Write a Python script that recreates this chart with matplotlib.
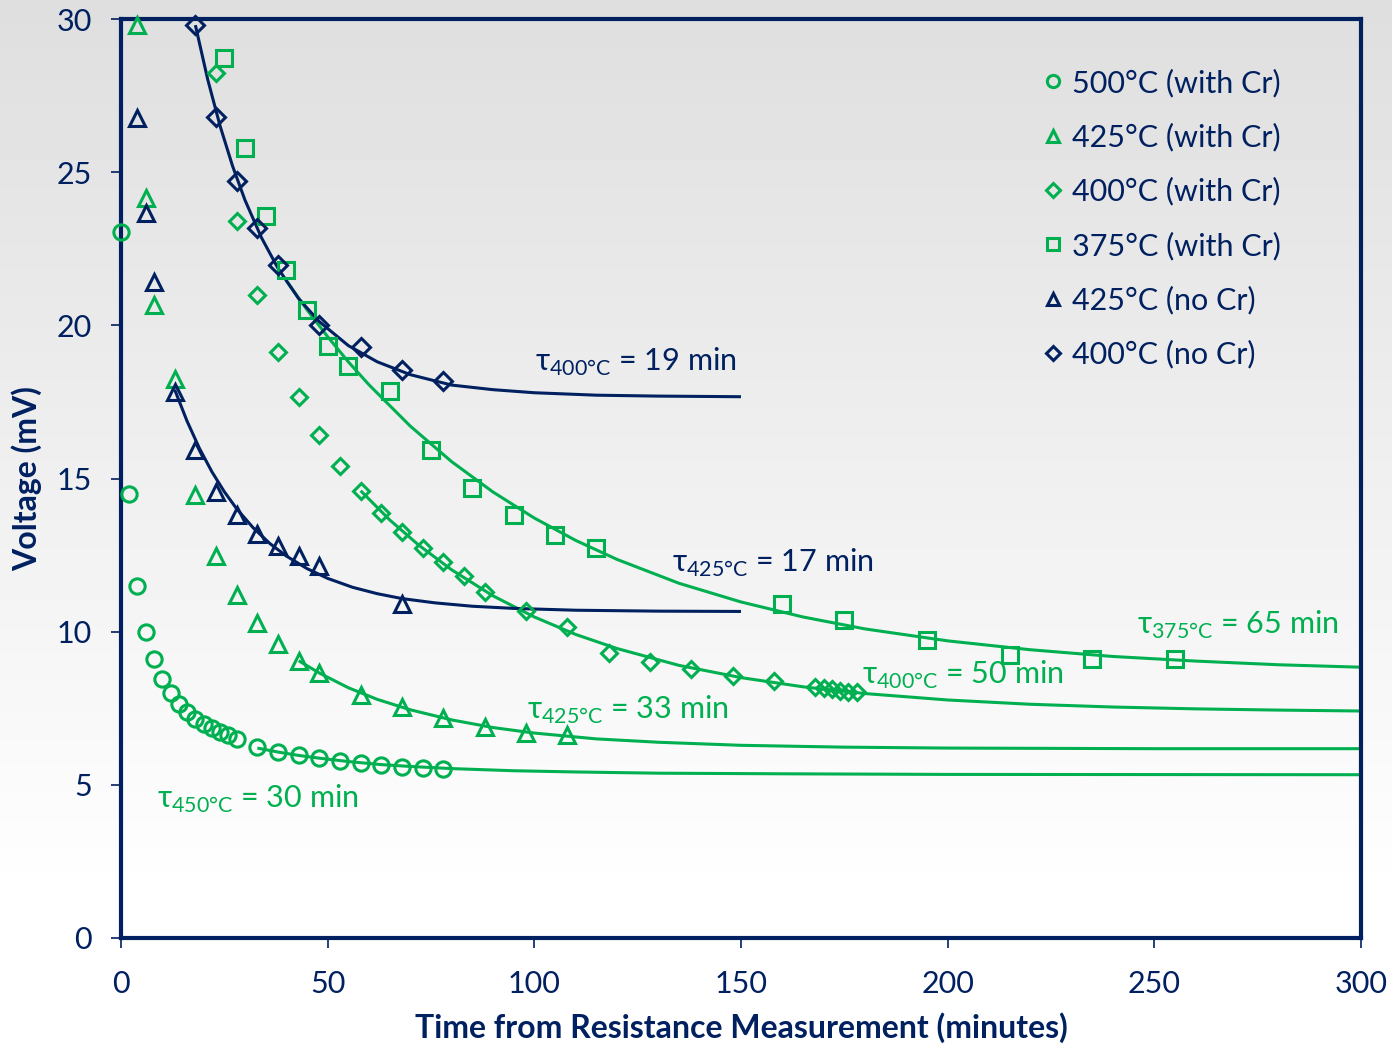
import matplotlib
matplotlib.use("Agg")
import matplotlib.pyplot as plt
import numpy as np
from matplotlib.lines import Line2D

# ----------------------------------------------------------------------
# Data
# ----------------------------------------------------------------------
# 500°C (with Cr) - circles
t_500 = [0, 2, 4, 6, 8, 10, 12, 14, 16, 18, 20, 22, 24, 26, 28,
         33, 38, 43, 48, 53, 58, 63, 68, 73, 78]
v_500 = [23.05, 14.5, 11.5, 9.98, 9.1, 8.46, 8.01, 7.65, 7.37, 7.15, 6.98,
         6.84, 6.73, 6.63, 6.49, 6.23, 6.08, 5.97, 5.88, 5.78, 5.71, 5.64,
         5.57, 5.54, 5.52]

# 425°C (with Cr) - triangles
t_425 = [4, 6, 8, 13, 18, 23, 28, 33, 38, 43, 48, 58, 68, 78, 88, 98, 108]
v_425 = [29.8, 24.17, 20.65, 18.25, 14.47, 12.48, 11.2, 10.29, 9.59, 9.04,
         8.66, 7.93, 7.53, 7.17, 6.9, 6.68, 6.63]

# 400°C (with Cr) - diamonds
t_400 = [23, 28, 33, 38, 43, 48, 53, 58, 63, 68, 73, 78, 83, 88, 98, 108,
         118, 128, 138, 148, 158, 168, 170, 172, 174, 176, 178]
v_400 = [28.23, 23.4, 20.98, 19.12, 17.65, 16.43, 15.42, 14.6, 13.88, 13.24,
         12.72, 12.28, 11.82, 11.3, 10.67, 10.14, 9.3, 9.0, 8.78, 8.56, 8.39,
         8.2, 8.15, 8.12, 8.07, 8.04, 8.02]

# 375°C (with Cr) - squares
t_375 = [25, 30, 35, 40, 45, 50, 55, 65, 75, 85, 95, 105, 115, 160, 175,
         195, 215, 235, 255]
v_375 = [28.72, 25.78, 23.56, 21.8, 20.5, 19.34, 18.68, 17.86, 15.92, 14.68,
         13.81, 13.16, 12.74, 10.89, 10.37, 9.73, 9.24, 9.12, 9.12]

# 425°C (no Cr) - triangles
t_425n = [4, 6, 8, 13, 18, 23, 28, 33, 38, 43, 48, 68]
v_425n = [26.78, 23.66, 21.4, 17.82, 15.92, 14.55, 13.82, 13.19, 12.81,
          12.48, 12.14, 10.9]

# 400°C (no Cr) - diamonds
t_400n = [18, 23, 28, 33, 38, 48, 58, 68, 78]
v_400n = [29.8, 26.79, 24.72, 23.17, 21.97, 20.02, 19.29, 18.55, 18.18]

# fitted decay curves, sampled along the drawn lines
fit_500_t = [33, 38, 43, 48, 55, 63, 70, 80, 95, 110, 130, 160, 200, 300]
fit_500_v = [6.2, 6.07, 5.96, 5.87, 5.76, 5.66, 5.6, 5.53, 5.46, 5.42, 5.38,
             5.36, 5.34, 5.33]

fit_425_t = [43, 48, 55, 62, 70, 80, 90, 100, 115, 130, 150, 175, 200, 250, 300]
fit_425_v = [9.05, 8.65, 8.17, 7.79, 7.45, 7.12, 6.87, 6.69, 6.5, 6.39, 6.29,
             6.23, 6.2, 6.18, 6.18]

fit_400_t = [58, 65, 72, 80, 90, 100, 110, 120, 135, 150, 165, 180, 200, 220,
             240, 260, 280, 300]
fit_400_v = [14.6, 13.65, 12.83, 12.02, 11.17, 10.48, 9.91, 9.45, 8.9, 8.5,
             8.2, 7.98, 7.77, 7.63, 7.54, 7.48, 7.44, 7.41]

fit_375_t = [40, 45, 50, 55, 60, 70, 80, 90, 100, 110, 120, 135, 150, 165,
             180, 200, 220, 240, 260, 280, 300]
fit_375_v = [21.46, 20.51, 19.63, 18.81, 18.06, 16.71, 15.55, 14.56, 13.71,
             12.98, 12.36, 11.58, 10.97, 10.48, 10.09, 9.7, 9.41, 9.19, 9.04,
             8.92, 8.84]

fit_425n_t = [13, 16, 19, 22, 25, 28, 32, 36, 40, 45, 50, 56, 62, 68, 76, 85,
              95, 110, 130, 150]
fit_425n_v = [17.9, 16.87, 15.98, 15.22, 14.57, 14.01, 13.39, 12.88, 12.47,
              12.06, 11.74, 11.45, 11.24, 11.08, 10.94, 10.83, 10.76, 10.7,
              10.67, 10.66]

fit_400n_t = [18, 21, 24, 27, 30, 34, 38, 43, 48, 55, 62, 70, 80, 90, 100,
              115, 130, 150]
fit_400n_v = [29.8, 28.02, 26.5, 25.2, 24.09, 22.86, 21.86, 20.87, 20.12,
              19.34, 18.81, 18.39, 18.05, 17.9, 17.8, 17.72, 17.69, 17.67]

# tau labels: subscript temperature, tau, x, y, colour key
tau_labels = [
    ("400", "19", 100.2, 18.5, "navy"),
    ("425", "17", 133.3, 11.95, "navy"),
    ("375", "65", 245.8, 9.92, "green"),
    ("400", "50", 179.3, 8.29, "green"),
    ("425", "33", 98.2, 7.15, "green"),
    ("450", "30", 8.7, 4.24, "green"),
]

legend_labels = ["500°C (with Cr)", "425°C (with Cr)", "400°C (with Cr)",
                 "375°C (with Cr)", "425°C (no Cr)", "400°C (no Cr)"]

# ----------------------------------------------------------------------
# Style
# ----------------------------------------------------------------------
NAVY = "#002060"
GREEN = "#00B050"
COLORS = {"navy": NAVY, "green": GREEN}
FS = 22

plt.rcParams["font.family"] = ["Lato", "DejaVu Sans"]
plt.rcParams["mathtext.fontset"] = "custom"
plt.rcParams["mathtext.rm"] = "Lato"

fig = plt.figure(figsize=(13.92, 10.45), dpi=100)

# gradient background (grey at the top, white at the bottom)
bg = fig.add_axes([0, 0, 1, 1], zorder=-10)
grad = np.clip(np.linspace(0.872, 1.02, 256), 0, 1).reshape(-1, 1)
bg.imshow(grad, aspect="auto", cmap="gray", vmin=0, vmax=1,
          extent=[0, 1, 0, 1], origin="upper")
bg.axis("off")

ax = fig.add_axes([0.0869, 0.1024, 0.8908, 0.8794])
ax.set_facecolor("none")

# ----------------------------------------------------------------------
# Fit lines
# ----------------------------------------------------------------------
for t, v, c in [(fit_500_t, fit_500_v, GREEN),
                (fit_425_t, fit_425_v, GREEN),
                (fit_400_t, fit_400_v, GREEN),
                (fit_375_t, fit_375_v, GREEN),
                (fit_425n_t, fit_425n_v, NAVY),
                (fit_400n_t, fit_400n_v, NAVY)]:
    ax.plot(t, v, color=c, lw=2.2, zorder=2, solid_capstyle="butt")

# ----------------------------------------------------------------------
# Data markers
# ----------------------------------------------------------------------
series = [
    (t_500, v_500, "o", GREEN, 11),
    (t_425, v_425, "^", GREEN, 11),
    (t_400, v_400, "D", GREEN, 8.5),
    (t_375, v_375, "s", GREEN, 11),
    (t_425n, v_425n, "^", NAVY, 11),
    (t_400n, v_400n, "D", NAVY, 9),
]
handles = []
for (t, v, m, c, ms), lab in zip(series, legend_labels):
    ax.plot(t, v, linestyle="none", marker=m, ms=ms, mfc="none", mec=c,
            mew=2.2, zorder=3, clip_on=False)
    handles.append(Line2D([], [], linestyle="none", marker=m, ms=ms * 0.8,
                          mfc="none", mec=c, mew=2.2, label=lab))

# ----------------------------------------------------------------------
# Tau annotations
# ----------------------------------------------------------------------
for temp, tau, x, y, ckey in tau_labels:
    ax.text(x, y, "τ$_{\\mathregular{" + temp + "°C}}$ = " + tau + " min",
            color=COLORS[ckey], fontsize=FS, ha="left", va="baseline",
            zorder=4)

# ----------------------------------------------------------------------
# Axes formatting
# ----------------------------------------------------------------------
ax.set_xlim(0, 300)
ax.set_ylim(0, 30)
ax.set_xticks([0, 50, 100, 150, 200, 250, 300])
ax.set_yticks([0, 5, 10, 15, 20, 25, 30])

for side in ["left", "right", "top", "bottom"]:
    ax.spines[side].set_color(NAVY)
    ax.spines[side].set_linewidth(3)

ax.tick_params(direction="out", length=7, width=1.2, color=NAVY,
               labelcolor=NAVY, labelsize=FS)
ax.tick_params(axis="x", pad=16)
ax.tick_params(axis="y", pad=14)

ax.set_xlabel("Time from Resistance Measurement (minutes)", fontsize=23,
              fontweight="bold", color=NAVY, labelpad=10)
ax.set_ylabel("Voltage (mV)", fontsize=23, fontweight="bold", color=NAVY,
              labelpad=10)

leg = ax.legend(handles=handles, loc="upper left",
                bbox_to_anchor=(1029 / 1392, 1 - 53 / 1045),
                bbox_transform=fig.transFigure, frameon=False, fontsize=FS,
                handlelength=0.6, handletextpad=0.3, labelspacing=0.84,
                borderpad=0)
for txt in leg.get_texts():
    txt.set_color(NAVY)

fig.savefig("out.png", dpi=100)
